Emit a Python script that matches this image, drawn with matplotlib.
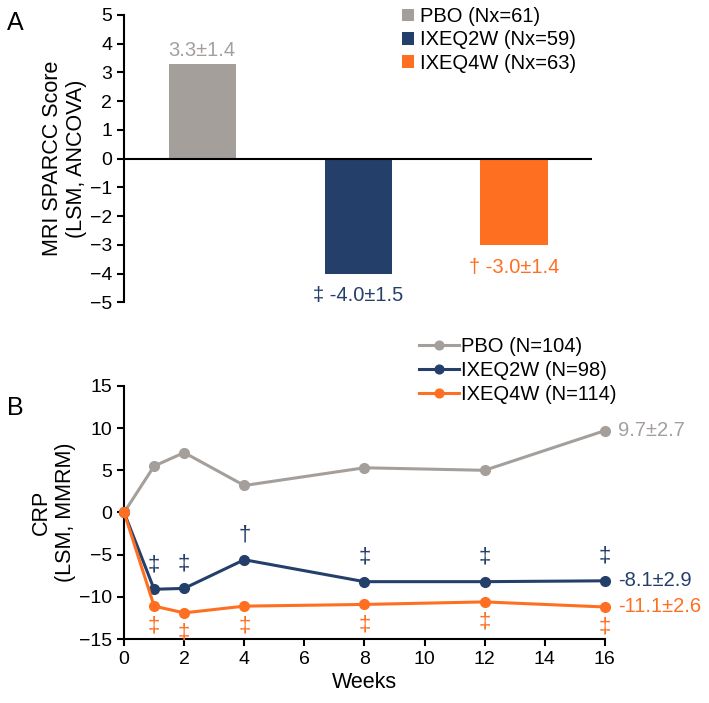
import matplotlib.pyplot as plt

plt.rcParams['font.family'] = ['Liberation Sans', 'DejaVu Sans']

# Panel A data
groups_a = ['PBO (Nx=61)', 'IXEQ2W (Nx=59)', 'IXEQ4W (Nx=63)']
sparcc = [3.3, -4.0, -3.0]
sparcc_labels = ['3.3±1.4', '‡ -4.0±1.5', '† -3.0±1.4']

# Panel B data
weeks = [0, 1, 2, 4, 8, 12, 16]
groups_b = ['PBO (N=104)', 'IXEQ2W (N=98)', 'IXEQ4W (N=114)']
crp_pbo = [0, 5.5, 7.1, 3.2, 5.3, 5.0, 9.7]
crp_q2w = [0, -9.1, -9.0, -5.6, -8.2, -8.2, -8.1]
crp_q4w = [0, -11.1, -11.9, -11.1, -10.9, -10.6, -11.2]
end_labels = ['9.7±2.7', '-8.1±2.9', '-11.1±2.6']
q2w_marks = ['‡', '‡', '†', '‡', '‡', '‡']
q4w_marks = ['‡', '‡', '‡', '‡', '‡', '‡']

gray = '#A59F9C'
navy = '#253F6B'
orange = '#FF6F22'
colors = [gray, navy, orange]

fig = plt.figure(figsize=(7.09, 7.03), dpi=100)
fs_tick = 14
fs_txt = 14.5
fs_lab = 15.5

# ---- Panel A ----
axA = fig.add_axes([0.175, 0.570, 0.660, 0.409])
xs = range(len(sparcc))
for i in xs:
    axA.bar(i, sparcc[i], width=0.43, color=colors[i], label=groups_a[i])
axA.axhline(0, color='black', lw=1.5)
axA.set_xlim(-0.5, 2.5)
axA.set_ylim(-5, 5)
axA.set_yticks(range(-5, 6))
axA.set_xticks([])
for s in ['top', 'right', 'bottom']:
    axA.spines[s].set_visible(False)
axA.spines['left'].set_linewidth(1.5)
axA.tick_params(axis='y', labelsize=fs_tick, width=1.5, length=5)
axA.set_ylabel('MRI SPARCC Score\n(LSM, ANCOVA)', fontsize=fs_lab, labelpad=2)
for i in xs:
    if sparcc[i] > 0:
        axA.text(i, sparcc[i] + 0.12, sparcc_labels[i], color=colors[i],
                 ha='center', va='bottom', fontsize=fs_txt)
    else:
        axA.text(i, sparcc[i] - 0.45, sparcc_labels[i], color=colors[i],
                 ha='center', va='top', fontsize=fs_txt)
axA.legend(loc='upper left', bbox_to_anchor=(0.555, 1.09), frameon=False,
           fontsize=fs_txt, handlelength=0.6, handleheight=0.6,
           handletextpad=0.3, labelspacing=0.22)
fig.text(0.01, 0.967, 'A', fontsize=18, va='center')

# ---- Panel B ----
axB = fig.add_axes([0.175, 0.091, 0.678, 0.360])
series = [crp_pbo, crp_q2w, crp_q4w]
for vals, c, lab in zip(series, colors, groups_b):
    axB.plot(weeks, vals, color=c, lw=2.2, marker='o', markersize=7,
             label=lab, clip_on=False, zorder=3)
axB.set_xlim(0, 16)
axB.set_ylim(-15, 15)
axB.set_xticks(range(0, 17, 2))
axB.set_yticks(range(-15, 16, 5))
for s in ['top', 'right']:
    axB.spines[s].set_visible(False)
axB.spines['left'].set_linewidth(1.5)
axB.spines['bottom'].set_linewidth(1.5)
axB.tick_params(labelsize=fs_tick, width=1.5, length=5)
axB.set_xlabel('Weeks', fontsize=fs_lab, labelpad=3)
axB.set_ylabel('CRP\n(LSM, MMRM)', fontsize=fs_lab, labelpad=2)

for w, v, m in zip(weeks[1:], crp_q2w[1:], q2w_marks):
    axB.text(w, v + 2.9, m, color=navy, ha='center', va='center', fontsize=16)
for w, v, m in zip(weeks[1:], crp_q4w[1:], q4w_marks):
    axB.text(w, v - 2.4, m, color=orange, ha='center', va='center', fontsize=16)
for vals, c, lab in zip(series, colors, end_labels):
    axB.text(weeks[-1] + 0.45, vals[-1], lab, color=c, ha='left',
             va='center', fontsize=fs_txt)

axB.legend(loc='upper left', bbox_to_anchor=(0.575, 1.265), frameon=False,
           fontsize=fs_txt, handlelength=2.0, handletextpad=0.1,
           labelspacing=0.25, markerscale=0.9)
fig.text(0.01, 0.42, 'B', fontsize=18, va='center')

fig.savefig('out.png', dpi=100)
